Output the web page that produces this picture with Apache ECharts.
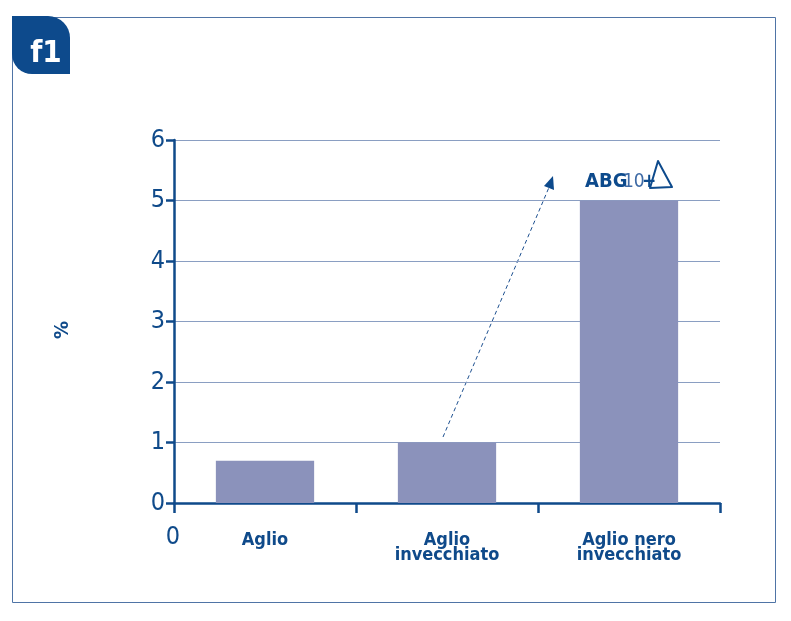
<!DOCTYPE html>
<html><head><meta charset="utf-8">
<script src="https://cdn.jsdelivr.net/npm/echarts@6/dist/echarts.min.js"></script>
<style>html,body{margin:0;padding:0;background:#fff}#c{width:791px;height:621px}</style>
</head><body><div id="c"></div>
<script>
const categories = ['Aglio', 'Aglio\ninvecchiato', 'Aglio nero\ninvecchiato'];
const values = [0.7, 1, 5];
const yTicks = [0, 1, 2, 3, 4, 5, 6];
const yAxisName = '%';
const badgeText = 'f1';

const dark = '#0f4a8a';
const font = '"DejaVu Sans Condensed", "Roboto", sans-serif';
const chart = echarts.init(document.getElementById('c'), null, {renderer: 'canvas'});
chart.setOption({
  animation: false,
  grid: {left: 174, right: 71, top: 140, bottom: 118},
  xAxis: {
    type: 'category', data: categories, boundaryGap: true,
    axisLine: {lineStyle: {color: dark, width: 2.5}},
    axisTick: {show: true, interval: 0, length: 10, lineStyle: {color: dark, width: 2.5}},
    axisLabel: {color: dark, fontSize: 18, fontWeight: 'bold', fontFamily: font, lineHeight: 15, margin: 30, interval: 0}
  },
  yAxis: {
    type: 'value', min: yTicks[0], max: yTicks[yTicks.length - 1], interval: 1,
    axisLine: {show: true, lineStyle: {color: dark, width: 2.5}},
    axisTick: {show: true, length: 8, lineStyle: {color: dark, width: 2.5}},
    axisLabel: {color: dark, fontSize: 25, fontFamily: font, margin: 9},
    splitLine: {show: true, lineStyle: {color: '#8a9ec2', width: 1}}
  },
  series: [{
    type: 'bar', data: values, barWidth: '54%',
    itemStyle: {color: '#8b92bb'}, z: 1
  }],
  graphic: [
    {type: 'rect', shape: {x: 12.5, y: 17.5, width: 763, height: 585}, style: {fill: 'none', stroke: '#4f74a6', lineWidth: 1}},
    {type: 'rect', shape: {x: 12, y: 16, width: 58, height: 58, r: [0, 22, 0, 20]}, style: {fill: '#0d4a8c'}},
    {type: 'text', x: 46, y: 54, style: {text: badgeText, fill: '#fff', font: 'bold 31px ' + font, align: 'center', verticalAlign: 'middle'}},
    {type: 'text', x: 63, y: 330, rotation: Math.PI / 2, style: {text: yAxisName, fill: dark, font: 'bold 20px ' + font, align: 'center', verticalAlign: 'middle'}},
    {type: 'text', x: 173, y: 537, style: {text: '0', fill: dark, font: '25px ' + font, align: 'center', verticalAlign: 'middle'}},
    {type: 'line', shape: {x1: 443, y1: 437, x2: 550, y2: 185}, style: {stroke: '#1c4f8f', lineWidth: 1, lineDash: [4, 3]}},
    {type: 'polygon', shape: {points: [[553, 176], [554, 190], [544, 186]]}, style: {fill: '#0d4a8c'}},
    {type: 'text', x: 585, y: 182, style: {text: 'ABG', fill: '#0d4a8c', font: 'bold 20px ' + font, verticalAlign: 'middle'}},
    {type: 'text', x: 623, y: 182, style: {text: '10', fill: '#3e6aa5', font: '19px ' + font, verticalAlign: 'middle'}},
    {type: 'text', x: 642, y: 182, style: {text: '+', fill: '#0d4a8c', font: 'bold 19px ' + font, verticalAlign: 'middle'}},
    {type: 'polygon', shape: {points: [[658, 161], [672, 187], [650, 188]]}, style: {fill: 'none', stroke: '#0d4a8c', lineWidth: 2, lineJoin: 'round'}}
  ]
});
</script></body></html>
